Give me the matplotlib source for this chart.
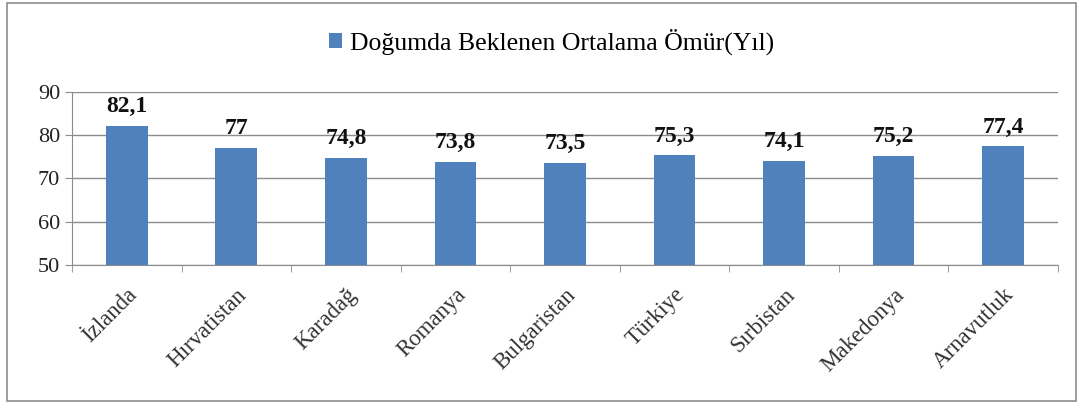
import matplotlib.pyplot as plt
from matplotlib.patches import Rectangle
import numpy as np

plt.rcParams['font.family'] = ['Liberation Serif', 'DejaVu Serif']

countries = ['İzlanda', 'Hırvatistan', 'Karadağ', 'Romanya', 'Bulgaristan',
             'Türkiye', 'Sırbistan', 'Makedonya', 'Arnavutluk']
life_exp = [82.1, 77, 74.8, 73.8, 73.5, 75.3, 74.1, 75.2, 77.4]
value_labels = ['82,1', '77', '74,8', '73,8', '73,5', '75,3', '74,1', '75,2', '77,4']
series_name = 'Doğumda Beklenen Ortalama Ömür(Yıl)'

fig = plt.figure(figsize=(10.84, 4.05), dpi=100)
ax = fig.add_axes([0.0664, 0.346, 0.9096, 0.427])

x = np.arange(len(countries))
bars = ax.bar(x, life_exp, width=0.38, color='#4F81BD', zorder=3, label=series_name)

for b, txt in zip(bars, value_labels):
    ax.annotate(txt, (b.get_x() + b.get_width() / 2, b.get_height()),
                xytext=(0, 10), textcoords='offset points',
                ha='center', va='baseline', fontsize=17, fontweight='bold', color='#111111')

ax.set_xlim(-0.5, len(countries) - 0.5)
ax.set_ylim(50, 90)
ax.set_yticks([50, 60, 70, 80, 90])
ax.yaxis.grid(True, color='#8c8c8c', linewidth=1, zorder=0)

ax.set_xticks(x)
ax.set_xticklabels(countries, rotation=45, ha='right', rotation_mode='anchor',
                   fontsize=16.5, color='#333333')
ax.set_xticks(np.arange(-0.5, len(countries)), minor=True)
ax.tick_params(axis='x', which='major', length=0, pad=14)
ax.tick_params(axis='x', which='minor', length=5, color='#8c8c8c', direction='out')
ax.tick_params(axis='y', length=5, color='#8c8c8c', labelsize=16, labelcolor='#222222')

for s in ['top', 'right']:
    ax.spines[s].set_visible(False)
for s in ['left', 'bottom']:
    ax.spines[s].set_color('#8c8c8c')

leg = fig.legend(handles=[bars], labels=[series_name], loc='center',
                 bbox_to_anchor=(0.509, 0.896), frameon=False, fontsize=18.5,
                 handlelength=0.5, handleheight=0.5, handletextpad=0.3)

fig.patches.append(Rectangle((0.0065, 0.0099), 0.986, 0.983, transform=fig.transFigure,
                             fill=False, edgecolor='#8c8c8c', linewidth=1.2))

fig.savefig('out.png', dpi=100)
